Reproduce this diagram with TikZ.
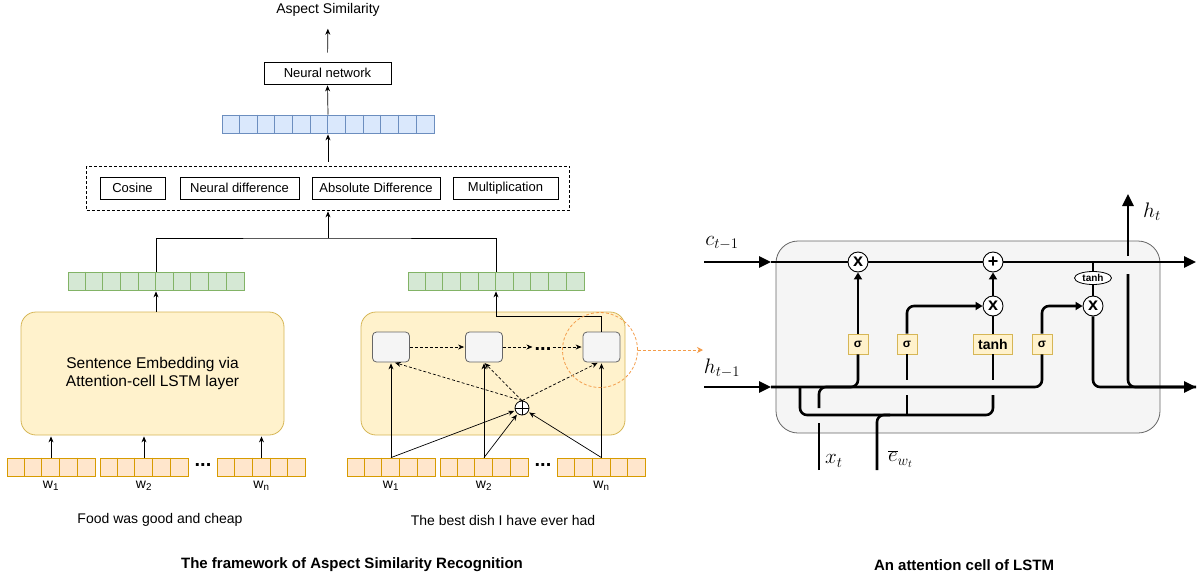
\RequirePackage{fix-cm}
\documentclass[tikz,border=0pt]{standalone}
\usepackage[no-math]{fontspec}
\setmainfont{Liberation Sans}
\usetikzlibrary{arrows.meta}
\usetikzlibrary{positioning}
\usetikzlibrary{shapes.geometric}

\definecolor{bluefill}{HTML}{DAE8FC}
\definecolor{bluedraw}{HTML}{6C8EBF}
\definecolor{greenfill}{HTML}{D5E8D4}
\definecolor{greendraw}{HTML}{82B366}
\definecolor{orangefill}{HTML}{FFE6CC}
\definecolor{orangedraw}{HTML}{D79B00}
\definecolor{yellowfill}{HTML}{FFF2CC}
\definecolor{yellowdraw}{HTML}{D6B656}
\definecolor{grayfill}{HTML}{F5F5F5}
\definecolor{graydraw}{HTML}{666666}
\definecolor{linkorange}{HTML}{F39C4A}

\tikzset{
  lbl/.style={font=\fontsize{14}{16}\selectfont, inner sep=1pt},
  opbox/.style={draw=black, line width=0.8pt, minimum height=22pt, inner sep=0pt, font=\fontsize{13}{15}\selectfont},
  vec/.style={line width=0.8pt, minimum height=18pt, inner sep=0pt},
  cell/.style={fill=grayfill, draw=graydraw, line width=0.8pt, rounded corners=4pt, minimum width=37pt, minimum height=30pt},
  arr/.style={line width=0.7pt, -{Stealth[length=6pt,width=5pt]}, shorten >=1pt},
  dasharr/.style={arr, dash pattern=on 3pt off 2pt},
  wire/.style={line width=2.6pt, rounded corners=7pt},
  bigarr/.style={wire, -{Triangle[length=12pt,width=11pt]}},
  gatearr/.style={wire, -{Triangle[length=7pt,width=8pt]}},
  op/.style={circle, draw, fill=white, line width=0.9pt, minimum size=20pt, inner sep=0pt, font=\bfseries\fontsize{18}{18}\selectfont},
  gate/.style={fill=yellowfill, draw=yellowdraw, line width=0.8pt, minimum width=20pt, minimum height=20pt, inner sep=1pt, font=\bfseries\fontsize{12}{12}\selectfont},
  mlbl/.style={font=\fontsize{21}{23}\selectfont, inner sep=1pt},
  captxt/.style={font=\bfseries\fontsize{15}{17}\selectfont},
  dots/.style={font=\bfseries\fontsize{20}{20}\selectfont, inner sep=1pt}
}

\begin{document}
\begin{tikzpicture}[x=1pt,y=-1pt]
\useasboundingbox (0,0) rectangle (1202,579);

% similarity head
\node[lbl] (AS) at (328,10) {Aspect Similarity};
\node[opbox, minimum width=127pt] (NN) at (327.5,73) {Neural network};
\node[vec, fill=bluefill, draw=bluedraw, minimum width=212pt] (BV) at (328,124) {};
\foreach \i in {1,...,11}
  \draw[bluedraw, line width=0.8pt] ([xshift=\i*17.67pt]BV.north west) -- ([xshift=\i*17.67pt]BV.south west);
\node[draw, line width=0.8pt, dash pattern=on 3pt off 2pt, minimum width=483pt, minimum height=44pt] (DB) at (328,188) {};
\node[opbox, minimum width=65pt] (COS) at (132.5,188) {Cosine};
\node[opbox, minimum width=119pt] (ND) at (239.5,188) {Neural difference};
\node[opbox, minimum width=128pt] (AD) at (376,188) {Absolute Difference};
\node[opbox, minimum width=105pt] (MU) at (505.5,188) {Multiplication};
\draw[arr, shorten <=9pt, shorten >=11pt] (NN.north) -- (AS.south);
\draw[arr] (BV.north) -- (NN.south);
\draw[arr, shorten <=4pt] (DB.north) -- (BV.south);

% sentence vectors
\node[vec, fill=greenfill, draw=greendraw, minimum width=176pt] (GL) at (156,281) {};
\node[vec, fill=greenfill, draw=greendraw, minimum width=176pt] (GR) at (496,281) {};
\foreach \v in {GL,GR}
  \foreach \i in {1,...,9}
    \draw[greendraw, line width=0.8pt] ([xshift=\i*17.6pt]\v.north west) -- ([xshift=\i*17.6pt]\v.south west);
\coordinate (J) at (328,238);
\draw[line width=0.7pt] (GL.north) |- (J) -| (GR.north);
\draw[arr] (J) -- (DB.south);

% left encoder
\node[rounded corners=15pt, fill=yellowfill, draw=yellowdraw, line width=0.8pt, minimum width=263pt, minimum height=123pt, align=center, font=\fontsize{15.5}{18}\selectfont] (SE) at (152.5,373.5) {Sentence Embedding via\\Attention-cell LSTM layer};
\draw[arr] (SE.north -| GL.south) -- (GL.south);

% right encoder
\node[rounded corners=15pt, fill=yellowfill, draw=yellowdraw, line width=0.8pt, minimum width=264pt, minimum height=123pt] (AB) at (493,373.5) {};
\node[cell] (C1) at (391,347) {};
\node[cell] (C2) at (484,347) {};
\node[cell] (Cn) at (601.5,347) {};
\node[dots] (DC) at (543,349) {...};
\node[circle, draw, fill=white, line width=0.8pt, minimum size=14pt, inner sep=0pt,
  path picture={\draw[line width=0.7pt] (path picture bounding box.north) -- (path picture bounding box.south)
  (path picture bounding box.west) -- (path picture bounding box.east);}] (P) at (522,408) {};

% word vectors
\node[vec, fill=orangefill, draw=orangedraw, minimum width=88pt] (OL1) at (51,467) {};
\node[vec, fill=orangefill, draw=orangedraw, minimum width=88pt] (OL2) at (144,467) {};
\node[vec, fill=orangefill, draw=orangedraw, minimum width=88pt] (OL3) at (261.5,467) {};
\node[vec, fill=orangefill, draw=orangedraw, minimum width=88pt] (OR1) at (391,467) {};
\node[vec, fill=orangefill, draw=orangedraw, minimum width=88pt] (OR2) at (484,467) {};
\node[vec, fill=orangefill, draw=orangedraw, minimum width=88pt] (OR3) at (601.5,467) {};
\foreach \v in {OL1,OL2,OL3,OR1,OR2,OR3}
  \foreach \i in {1,...,4}
    \draw[orangedraw, line width=0.8pt] ([xshift=\i*17.6pt]\v.north west) -- ([xshift=\i*17.6pt]\v.south west);
\node[dots] (DL) at (203,465) {...};
\node[dots] (DR) at (543,465) {...};

\node[lbl, below=3pt of OL1] (WL1) {w\textsubscript{1}};
\node[lbl, below=3pt of OL2] (WL2) {w\textsubscript{2}};
\node[lbl, below=3pt of OL3] (WL3) {w\textsubscript{n}};
\node[lbl, below=3pt of OR1] (WR1) {w\textsubscript{1}};
\node[lbl, below=3pt of OR2] (WR2) {w\textsubscript{2}};
\node[lbl, below=3pt of OR3] (WR3) {w\textsubscript{n}};
\node[lbl] (TL) at (160,520) {Food was good and cheap};
\node[lbl] (TR) at (503,520) {The best dish I have ever had};

\foreach \v in {OL1,OL2,OL3}
  \draw[arr] (\v.north) -- (\v.north |- SE.south);
\draw[dasharr] (C1.east) -- (C2.west);
\draw[dasharr] (C2.east) -- (C2.east -| DC.west);
\draw[dasharr] (Cn.west -| DC.east) -- (Cn.west);
\foreach \v/\c in {OR1/C1,OR2/C2,OR3/Cn}{
  \draw[arr] (\v.north) -- (\c.south);
  \draw[arr] (\v.north) -- (P);
}
\draw[dasharr] (P.north) -- ([xshift=3pt]C1.south);
\draw[dasharr] (P.north) -- (C2.south);
\draw[dasharr] (P.north) -- ([xshift=-3pt]Cn.south);
\draw[arr] (Cn.north) -- ++(0,-15) -| (GR.south);

% link to the cell
\node[circle, draw=linkorange, line width=0.8pt, dash pattern=on 3pt off 2pt, minimum size=75pt, inner sep=0pt] (OC) at (600,350) {};
\coordinate (LK) at (703,350);
\draw[linkorange, line width=0.9pt, dash pattern=on 3pt off 2pt, -{Stealth[length=6pt,width=6pt]}] (OC.east) -- (LK);

% attention cell
\node[rounded corners=22pt, fill=grayfill, draw=graydraw, line width=0.8pt, minimum width=384pt, minimum height=192pt] (LB) at (968,337) {};
\node[op] (M1) at (858,262) {x};
\node[op] (A) at (993,262) {+};
\node[op] (M2) at (993,306) {x};
\node[op] (M3) at (1093,306) {x};
\node[gate] (S1) at (858,344) {σ};
\node[gate] (S2) at (907,344) {σ};
\node[gate, minimum width=39pt, font=\bfseries\fontsize{14}{14}\selectfont] (T) at (993,344) {tanh};
\node[gate] (S3) at (1042,344) {σ};
\node[ellipse, draw, fill=white, line width=0.8pt, minimum width=37pt, minimum height=13pt, inner sep=0pt, font=\bfseries\fontsize{10}{10}\selectfont] (TH) at (1093,278) {tanh};

\coordinate (CI) at (704,262);
\coordinate (CE) at (771,262);
\coordinate (CO) at (1196,262);
\coordinate (HI) at (704,387);
\coordinate (HE) at (771,387);
\coordinate (HO) at (1196,387);
\coordinate (XB) at (819,470);
\coordinate (XT) at (819,408);
\coordinate (EB) at (877,470);
\coordinate (B1) at (800,387);
\coordinate (B2) at (993,395);
\coordinate (HT1) at (1128,274);
\coordinate (HT2) at (1128,256);
\coordinate (HT3) at (1128,194);

% cell state
\draw[bigarr] (CI) -- (CE);
\draw[wire] (CE) -- (M1);
\draw[wire] (M1) -- (A);
\draw[bigarr] (A) -- (CO);
\draw[line width=2pt] (M3.north |- CI) -- (TH.north);
\draw[line width=2pt] (TH.south) -- (M3.north);

% hidden state and inputs
\draw[bigarr] (HI) -- (HE);
\draw[wire] (HE) -| (S3.south);
\draw[gatearr] (S3.north) |- (M3.west);
\draw[wire] (XT) |- (S1.south |- HE) -- (S1.south);
\draw[wire] (XB) -- ++(0,-47);
\draw[gatearr] (S1.north) -- (M1.south);
\draw[wire] (B1) -- ++(0,28) -| (B2);
\draw[wire] (EB) |- (890,415);
\draw[wire] (S2.south |- B2) -- ++(0,20);
\draw[wire] (S2.south) -- ++(0,26);
\draw[wire] (T.south) -- ++(0,26);
\draw[gatearr] (S2.north) |- (M2.west);
\draw[wire] (T.north) -- (M2.south);
\draw[gatearr] (M2.north) -- (A.south);
\draw[bigarr] (M3.south) |- (HO);
\draw[wire] (HT1) |- (HO);
\draw[bigarr] (HT2) -- (HT3);

\node[mlbl] (LC) at (722,243) {$c_{t-1}$};
\node[mlbl] (LH) at (722,368) {$h_{t-1}$};
\node[mlbl] (LHT) at (1152,212) {$h_t$};
\node[mlbl, anchor=west] (LX) at (824,461) {$x_t$};
\node[mlbl, anchor=west] (LE) at (887,459) {$\overline{e}_{w_t}$};

% captions
\node[captxt] (CAP1) at (352,565) {The framework of Aspect Similarity Recognition};
\node[captxt] (CAP2) at (964,565) {An attention cell of LSTM};
\end{tikzpicture}
\end{document}
